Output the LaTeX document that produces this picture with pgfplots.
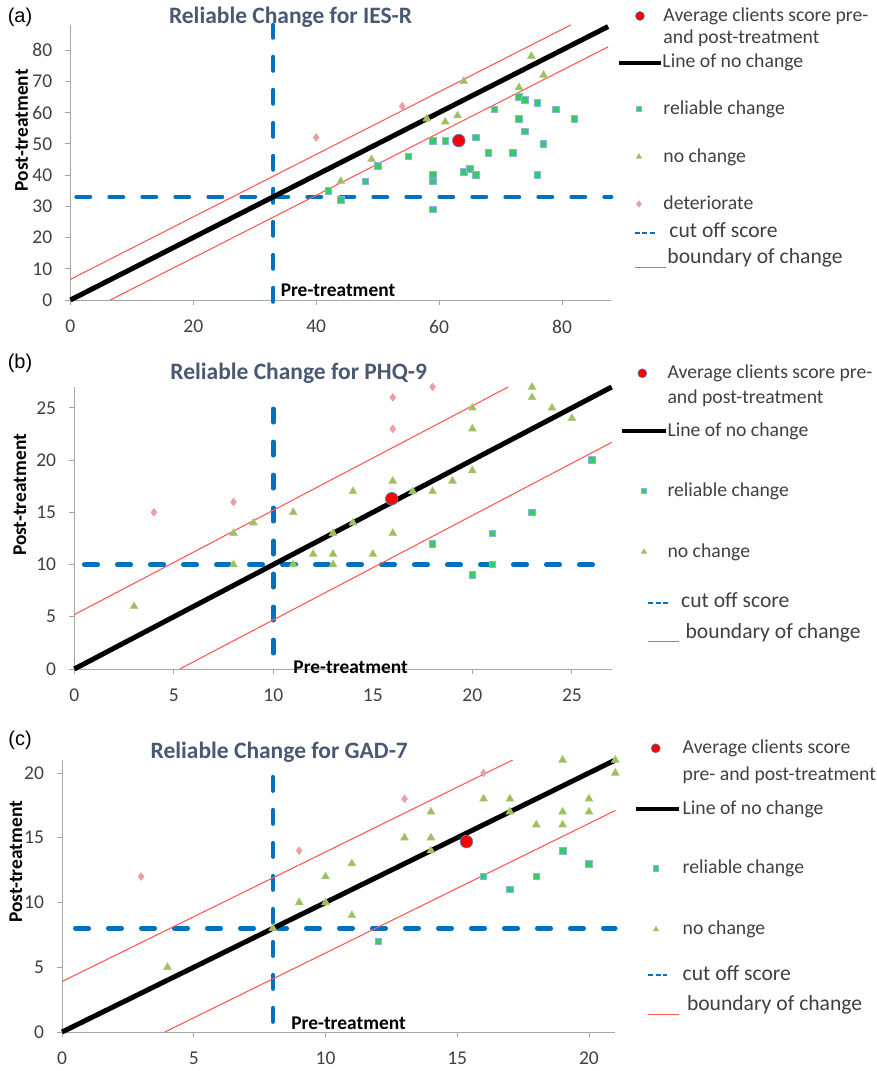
\documentclass[border=0pt]{standalone}
\usepackage{pgfplots}
\pgfplotsset{compat=1.18}
\usepackage{fontspec}
\setmainfont{Carlito}
\newfontfamily\arialf{Liberation Sans}
\definecolor{ttl}{HTML}{4A5871}
\definecolor{txt}{HTML}{404040}
\definecolor{relc}{HTML}{33CC66}
\definecolor{reledge}{HTML}{8DB3E2}
\definecolor{noc}{HTML}{9DBF5E}
\definecolor{nocedge}{HTML}{B0CC80}
\definecolor{det}{HTML}{EAA0A6}
\definecolor{avg}{HTML}{FF0000}
\definecolor{avgedge}{HTML}{4F81BD}
\definecolor{bnd}{HTML}{FF5A5A}
\definecolor{cut}{HTML}{0070C0}
\newcommand\legfont[1]{\color{txt}\fontsize{19.7}{#1}\selectfont}
\newcommand\legbig{\color{txt}\fontsize{21.6}{24}\selectfont}
\pgfplotsset{
  legdot/.style={legend image code/.code={\draw[##1] plot coordinates {(#1,0pt)};}},
  legline/.style n args={3}{legend image code/.code={\draw[##1] (#1,#3) -- (#2,#3);}},
  relm/.style={only marks, mark=square*, mark size=3.3pt, mark options={fill=relc, draw=reledge, line width=0.8pt}},
  nocm/.style={only marks, mark=triangle*, mark size=4.6pt, mark options={fill=noc, draw=nocedge, line width=0.5pt}},
  detm/.style={only marks, mark=diamond*, mark size=4pt, mark options={fill=det, draw=det, line width=0.4pt}},
  avgm/.style={only marks, mark=*, mark size=6.3pt, mark options={fill=avg, draw=avgedge, line width=0.7pt}},
  cutl/.style={cut, line width=4.5pt, line cap=round, dash pattern=on 13.5pt off 19.5pt},
  bndl/.style={bnd, line width=1.1pt},
  nol/.style={black, line width=5pt},
  base/.style={
    scale only axis, axis lines*=left,
    axis line style={black!35, line width=0.8pt},
    tick align=outside, major tick length=5pt,
    tick style={black!35, line width=0.8pt},
    /pgf/number format/assume math mode=true,
    ticklabel style={font=\fontsize{19.5}{21}\selectfont, text=txt, inner sep=0pt},
    xticklabel style={anchor=north, yshift=-15pt},
    yticklabel style={anchor=east, xshift=-13pt},
    clip=false,
    ylabel={Post-treatment}, xlabel={Pre-treatment},
    label style={font=\bfseries\fontsize{19.4}{21}\selectfont, inner sep=0pt},
    title style={font=\bfseries\fontsize{23.5}{26}\selectfont, text=ttl, inner sep=0pt, anchor=center},
    legend style={draw=none, fill=none, inner sep=0pt, outer sep=0pt, anchor=north west,
      row sep=0pt, nodes={inner sep=0pt, outer sep=0pt, anchor=west}},
  },
}
\begin{document}
\begin{tikzpicture}
\useasboundingbox (0,0) rectangle (877pt,1071pt);
\node[font=\arialf\fontsize{20}{22}\selectfont] at (20pt,1054pt) {(a)};
\node[font=\arialf\fontsize{20}{22}\selectfont] at (20pt,708pt) {(b)};
\node[font=\arialf\fontsize{20}{22}\selectfont] at (20pt,331pt) {(c)};
% ---------------- (a)
\begin{axis}[base, at={(70.4pt,771pt)}, anchor=south west, width=540.8pt, height=275pt,
  xmin=0, xmax=88, ymin=0, ymax=88, xtick={0,20,...,80}, ytick={0,10,...,80},
  title={Reliable Change for IES-R},
  title style={at={(axis description cs:0.407,1.007)}},
  xlabel style={at={(axis description cs:0.3886,0.0364)}, anchor=west},
  ylabel style={at={(axis description cs:-0.090,0.618)}, anchor=center},
  legend style={at={(axis description cs:1.0107,1.0698)}, column sep=-4pt}]
\addplot[cutl, forget plot] coordinates {(33,-0.5) (33,88)};
\addplot[cutl, forget plot] coordinates {(1,33) (88,33)};
\addplot[bndl, forget plot] coordinates {(0,6.6) (81.4,88)};
\addplot[bndl, forget plot] coordinates {(6.5,0) (87.5,81)};
\addplot[nol, forget plot] coordinates {(0,0) (87.5,87.5)};
\addplot[relm, forget plot] coordinates {(42,35) (44,32) (48,38) (50,43) (55,46) (59,51) (59,40) (59,38) (59,29) (61,51) (64,41) (65,42) (66,40) (66,52) (68,47) (69,61) (72,47) (73,65) (73,58) (74,64) (74,54) (76,63) (76,40) (77,50) (79,61) (82,58)};
\addplot[nocm, forget plot] coordinates {(44,38) (49,45) (58,58) (61,57) (63,59) (64,70) (73,68) (75,78) (77,72)};
\addplot[detm, forget plot] coordinates {(40,52) (54,62)};
\addplot[avgm, forget plot] coordinates {(63.2,51)};
\addlegendimage{legdot=21pt, mark=*, mark size=4.5pt, mark options={fill=avg, draw=avgedge, line width=0.6pt}}
\addlegendentry[text height=15.7pt, text depth=4.7pt, xshift=1pt]{\legfont{22.3}\begin{tabular}[t]{@{}l@{}}Average clients score pre-\\and post-treatment\end{tabular}}
\addlegendimage{legline={0pt}{41.7pt}{-1.5pt}, black, line width=4pt}
\addlegendentry[text height=41pt, text depth=30pt]{\legfont{22}Line of no change}
\addlegendimage{legdot=20pt, mark=square*, mark size=2.6pt, mark options={fill=relc, draw=reledge, line width=0.5pt}}
\addlegendentry[text height=17.3pt, text depth=6.3pt, xshift=1pt]{\legfont{22}reliable change}
\addlegendimage{legdot=20pt, mark=triangle*, mark size=3.3pt, mark options={fill=noc, draw=nocedge, line width=0.4pt}}
\addlegendentry[text height=41.4pt, text depth=30.4pt, xshift=1pt]{\legfont{22}no change}
\addlegendimage{legdot=20pt, mark=diamond*, mark size=3.4pt, mark options={fill=det, draw=det}}
\addlegendentry[text height=16.9pt, text depth=5.9pt, xshift=1pt]{\legfont{22}deteriorate}
\addlegendimage{legline={16pt}{38pt}{-1pt}, cut, line width=2pt, dash pattern=on 5pt off 2.5pt}
\addlegendentry[text height=22.3pt, text depth=10.3pt, xshift=7pt]{\legbig cut off score}
\addlegendimage{legline={16pt}{47pt}{-10pt}, bnd, line width=1pt}
\addlegendentry[text height=16pt, text depth=4pt, xshift=5pt]{\legbig boundary of change}
\end{axis}
% ---------------- (b)
\begin{axis}[base, at={(74.3pt,402pt)}, anchor=south west, width=537.4pt, height=282pt,
  xmin=0, xmax=27, ymin=0, ymax=27, xtick={0,5,...,25}, ytick={0,5,...,25},
  title={Reliable Change for PHQ-9},
  title style={at={(axis description cs:0.4176,1.027)}},
  xlabel style={at={(axis description cs:0.4074,0.006)}, anchor=west},
  ylabel style={at={(axis description cs:-0.1014,0.617)}, anchor=center},
  legend style={at={(axis description cs:1.0155,1.1539)}, column sep=-12pt}]
\addplot[cutl, forget plot] coordinates {(10,1.5) (10,25.6)};
\addplot[cutl, forget plot] coordinates {(0.5,10) (27,10)};
\addplot[bndl, forget plot] coordinates {(0,5.2) (21.8,27)};
\addplot[bndl, forget plot] coordinates {(5.3,0) (27,21.7)};
\addplot[nol, forget plot] coordinates {(0,0) (27,27)};
\addplot[relm, forget plot] coordinates {(18,12) (20,9) (21,13) (21,10) (23,15) (26,20)};
\addplot[nocm, forget plot] coordinates {(3,6) (8,13) (8,10) (9,14) (11,15) (11,10) (12,11) (13,13) (13,11) (13,10) (14,17) (14,14) (15,11) (16,18) (16,13) (17,17) (18,17) (19,18) (20,25) (20,23) (20,19) (23,27) (23,26) (24,25) (25,24)};
\addplot[detm, forget plot] coordinates {(4,15) (8,16) (16,26) (16,23) (18,27)};
\addplot[avgm, forget plot] coordinates {(15.95,16.3)};
\addlegendimage{legdot=20.3pt, mark=*, mark size=4.5pt, mark options={fill=avg, draw=avgedge, line width=0.6pt}}
\addlegendentry[text height=35.2pt, text depth=24.2pt]{\legfont{25}\begin{tabular}[t]{@{}l@{}}Average clients score pre-\\and post-treatment\end{tabular}}
\addlegendimage{legline={0pt}{44pt}{0pt}, black, line width=4pt}
\addlegendentry[text height=33.5pt, text depth=22.5pt]{\legfont{22}Line of no change}
\addlegendimage{legdot=22pt, mark=square*, mark size=2.6pt, mark options={fill=relc, draw=reledge, line width=0.5pt}}
\addlegendentry[text height=37.5pt, text depth=26.5pt]{\legfont{22}reliable change}
\addlegendimage{legdot=22pt, mark=triangle*, mark size=3.3pt, mark options={fill=noc, draw=nocedge, line width=0.4pt}}
\addlegendentry[text height=34.2pt, text depth=23.2pt]{\legfont{22}no change}
\addlegendimage{legline={26pt}{47pt}{-1pt}, cut, line width=2pt, dash pattern=on 5pt off 2.5pt}
\addlegendentry[text height=27.3pt, text depth=15.3pt, xshift=13.7pt]{\legbig cut off score}
\addlegendimage{legline={26pt}{57pt}{-9pt}, bnd, line width=1pt}
\addlegendentry[text height=16pt, text depth=4pt, xshift=18pt]{\legbig boundary of change}
\end{axis}
% ---------------- (c)
\begin{axis}[base, at={(62.1pt,39pt)}, anchor=south west, width=553.2pt, height=272pt,
  xmin=0, xmax=21, ymin=0, ymax=21, xtick={0,5,...,20}, ytick={0,5,...,20},
  title={Reliable Change for GAD-7},
  title style={at={(axis description cs:0.3926,1.006)}},
  xlabel style={at={(axis description cs:0.414,0.0305)}, anchor=west},
  ylabel style={at={(axis description cs:-0.0837,0.625)}, anchor=center},
  legend style={at={(axis description cs:1.0338,1.1853)}, column sep=1.7pt}]
\addplot[cutl, forget plot] coordinates {(8,0.8) (8,20.4)};
\addplot[cutl, forget plot] coordinates {(0.5,8) (21,8)};
\addplot[bndl, forget plot] coordinates {(0,3.9) (17.1,21)};
\addplot[bndl, forget plot] coordinates {(3.9,0) (21,17.1)};
\addplot[nol, forget plot] coordinates {(0,0) (21,21)};
\addplot[relm, forget plot] coordinates {(12,7) (16,12) (17,11) (18,12) (19,14) (20,13)};
\addplot[nocm, forget plot] coordinates {(4,5) (8,8) (9,10) (10,12) (10,10) (11,13) (11,9) (13,15) (14,17) (14,15) (14,14) (16,18) (17,18) (17,17) (18,16) (19,21) (19,17) (19,16) (20,18) (20,17) (21,21) (21,20)};
\addplot[detm, forget plot] coordinates {(3,12) (9,14) (13,18) (16,20)};
\addplot[avgm, forget plot] coordinates {(15.35,14.7)};
\addlegendimage{legdot=19.7pt, mark=*, mark size=4.5pt, mark options={fill=avg, draw=avgedge, line width=0.6pt}}
\addlegendentry[text height=44.2pt, text depth=33.2pt]{\legfont{26.7}\begin{tabular}[t]{@{}l@{}}Average clients score\\pre- and post-treatment\end{tabular}}
\addlegendimage{legline={0pt}{43pt}{0pt}, black, line width=4pt}
\addlegendentry[text height=27.5pt, text depth=16.5pt]{\legfont{22}Line of no change}
\addlegendimage{legdot=20pt, mark=square*, mark size=2.6pt, mark options={fill=relc, draw=reledge, line width=0.5pt}}
\addlegendentry[text height=42.8pt, text depth=31.8pt]{\legfont{22}reliable change}
\addlegendimage{legdot=20pt, mark=triangle*, mark size=3.3pt, mark options={fill=noc, draw=nocedge, line width=0.4pt}}
\addlegendentry[text height=29.2pt, text depth=18.2pt]{\legfont{22}no change}
\addlegendimage{legline={12.3pt}{31.3pt}{-1pt}, cut, line width=2pt, dash pattern=on 5pt off 2.5pt}
\addlegendentry[text height=27pt, text depth=15pt]{\legbig cut off score}
\addlegendimage{legline={12pt}{43pt}{-10pt}, bnd, line width=1pt}
\addlegendentry[text height=16pt, text depth=4pt, xshift=4.3pt]{\legbig boundary of change}
\end{axis}
\end{tikzpicture}
\end{document}
